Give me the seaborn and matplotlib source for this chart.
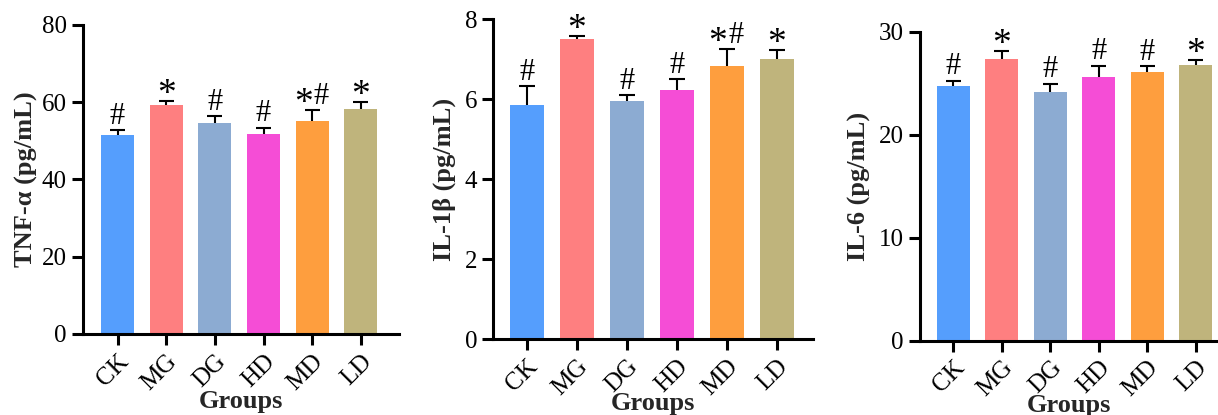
import numpy as np
import pandas as pd
import matplotlib
matplotlib.use("Agg")
import matplotlib.pyplot as plt
import seaborn as sns

sns.set_theme(style="ticks")
plt.rcParams['font.family'] = ['Liberation Serif', 'DejaVu Serif']

groups = ['CK', 'MG', 'DG', 'HD', 'MD', 'LD']
colors = ['#559efd', '#fe7f80', '#8cabd2', '#f54dd6', '#fe9e3e', '#bfb47c']

tnf_mean = [51.4, 59.2, 54.6, 51.8, 55.1, 58.3]
tnf_err = [1.4, 1.1, 1.9, 1.6, 2.9, 1.8]
tnf_marks = ['#', '*', '#', '#', '*#', '*']

il1b_mean = [5.84, 7.49, 5.95, 6.23, 6.83, 6.99]
il1b_err = [0.49, 0.09, 0.15, 0.26, 0.41, 0.24]
il1b_marks = ['#', '*', '#', '#', '*#', '*']

il6_mean = [24.76, 27.38, 24.15, 25.6, 26.06, 26.8]
il6_err = [0.48, 0.72, 0.8, 1.1, 0.58, 0.45]
il6_marks = ['#', '*', '#', '#', '#', '*']

panels = [
    ('TNF-α (pg/mL)', tnf_mean, tnf_err, tnf_marks, [0, 20, 40, 60, 80],
     [0.0681, 0.1952, 0.2594, 0.7446], (-0.71, 5.78), 3, -3),
    ('IL-1β (pg/mL)', il1b_mean, il1b_err, il1b_marks, [0, 2, 4, 6, 8],
     [0.4048, 0.1831, 0.2627, 0.7711], (-0.68, 5.72), 6, -5),
    ('IL-6 (pg/mL)', il6_mean, il6_err, il6_marks, [0, 10, 20, 30],
     [0.7553, 0.1790, 0.2447, 0.7446], (-0.69, 5.46), 6, -5),
]


def put_mark(ax, ch, x, y, dx):
    # '#' sits on the baseline, '*' floats high, so shift them differently
    if ch == '*':
        ax.annotate(ch, (x, y), xytext=(dx, -2), textcoords='offset points',
                    ha='center', va='baseline', fontsize=27, color='black')
    else:
        ax.annotate(ch, (x, y), xytext=(dx, 4.5), textcoords='offset points',
                    ha='center', va='baseline', fontsize=22, color='black')


fig = plt.figure(figsize=(12.18, 4.15), dpi=100)
fig.set_facecolor('white')

for ylab, mean, err, marks, yticks, pos, xlim, lpad, xpad in panels:
    ax = fig.add_axes(pos)
    df = pd.DataFrame({'Groups': groups, 'value': mean})
    sns.barplot(data=df, x='Groups', y='value', hue='Groups', palette=colors,
                legend=False, width=0.68, linewidth=0, saturation=1, ax=ax)
    xs = np.arange(len(groups))
    top = np.array(mean) + np.array(err)
    ax.vlines(xs, mean, top, color='black', lw=1.5, zorder=3)
    ax.hlines(top, xs - 0.155, xs + 0.155, color='black', lw=1.5, zorder=3)
    for x, t, s in zip(xs, top, marks):
        if len(s) == 2:
            put_mark(ax, s[0], x, t, -6.5)
            put_mark(ax, s[1], x, t, 6.5)
        else:
            put_mark(ax, s, x, t, 0)
    ax.set_ylim(yticks[0], yticks[-1])
    ax.set_yticks(yticks)
    ax.set_xlim(*xlim)
    ax.set_xticks(xs)
    ax.set_xticklabels(groups, rotation=45, ha='right', rotation_mode='anchor')
    ax.set_ylabel(ylab, fontsize=19, fontweight='bold', labelpad=lpad)
    ax.set_xlabel('Groups', fontsize=19, fontweight='bold', labelpad=xpad)
    sns.despine(ax=ax)
    for sp in ['left', 'bottom']:
        ax.spines[sp].set_linewidth(2.2)
        ax.spines[sp].set_color('black')
    ax.tick_params(axis='both', width=2.2, length=8, labelsize=18, colors='black')
    ax.set_facecolor('white')

fig.savefig('out.png', dpi=100, facecolor='white')
